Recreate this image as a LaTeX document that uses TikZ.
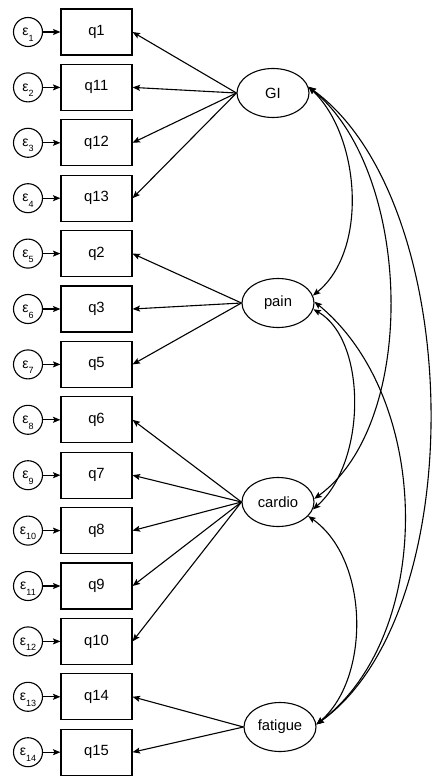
\documentclass[tikz,border=0pt]{standalone}
\usepackage{fontspec}
\setmainfont{Liberation Sans}
\usetikzlibrary{arrows.meta,shapes.geometric}
\begin{document}
\begin{tikzpicture}[x=1pt,y=-1pt,
  tip/.tip={Stealth[length=7.5pt,width=6pt,inset=1.5pt]},
  obs/.style={draw,line width=1.1pt,minimum width=71pt,minimum height=46pt,inner sep=0pt,font=\fontsize{14.8}{15}\selectfont},
  lat/.style={draw,ellipse,line width=1.1pt,minimum width=72pt,minimum height=49pt,inner sep=0pt,font=\fontsize{14.8}{15}\selectfont},
  err/.style={draw,circle,line width=1.1pt,minimum size=29pt,inner sep=0pt,font=\fontsize{14}{14}\selectfont},
  ld/.style={line width=1.1pt,-tip},
  cov/.style={line width=1.1pt,tip-tip},
]
\useasboundingbox (0,0) rectangle (435,778);
\foreach \l [count=\i] in {q1,q11,q12,q13,q2,q3,q5,q6,q7,q8,q9,q10,q14,q15} {
  \pgfmathsetmacro\yy{32+55.4*(\i-1)}
  \node[obs] (\l) at (96.5,\yy) {\l};
  \node[err] (e\i) at (28,\yy) {ε\smash{\raisebox{-5.5pt}{\fontsize{9}{9}\selectfont\i}}};
  \draw[ld] (e\i) -- (\l);
}
\node[lat] (GI) at (273,93) {GI};
\node[lat] (pain) at (278,303) {pain};
\node[lat] (cardio) at (278,502) {cardio};
\node[lat] (fatigue) at (280,727) {fatigue};
\foreach \t in {q1,q11,q12,q13} \draw[ld] (GI.west) -- (\t.east);
\foreach \t in {q2,q3,q5} \draw[ld] (pain.west) -- (\t.east);
\foreach \t in {q6,q7,q8,q9,q10} \draw[ld] (cardio.west) -- (\t.east);
\foreach \t in {q14,q15} \draw[ld] (fatigue.west) -- (\t.east);
\draw[cov] (GI.10) .. controls (360,135) and (369,250) .. (pain.12);
\draw[cov] (GI.10) .. controls (412,170) and (420,422) .. (cardio.5);
\draw[cov] (GI.10) .. controls (465,200) and (473,612) .. (fatigue.4);
\draw[cov] (pain.-10) .. controls (367,340) and (367,462) .. (cardio.-12);
\draw[cov] (pain.2) .. controls (434,400) and (434,636) .. (fatigue.4);
\draw[cov] (cardio.-25) .. controls (370,560) and (370,679) .. (fatigue.4);
\end{tikzpicture}
\end{document}
